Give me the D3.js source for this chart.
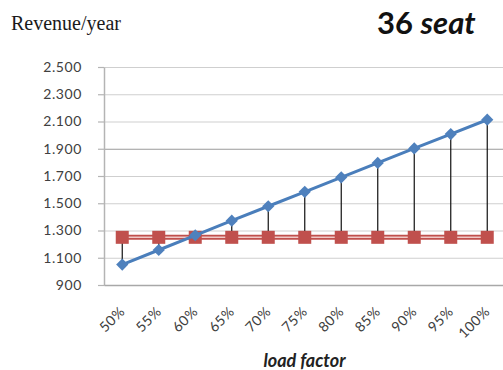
<!DOCTYPE html>
<html>
<head>
<meta charset="utf-8">
<script src="https://cdn.jsdelivr.net/npm/d3@7"></script>
<style>
  html, body { margin: 0; padding: 0; background: #fff; }
  svg { display: block; }
</style>
</head>
<body>
<svg id="chart" width="503" height="370"></svg>
<script>
// Load factor categories
const categories = ["50%", "55%", "60%", "65%", "70%", "75%", "80%", "85%", "90%", "95%", "100%"];
// Revenue per year at each load factor
const revenue = [1050, 1157, 1265, 1372, 1478, 1584, 1690, 1796, 1902, 2008, 2113];
// Break-even cost level
const cost = [1250, 1250, 1250, 1250, 1250, 1250, 1250, 1250, 1250, 1250, 1250];
// Y axis ticks
const yTicks = [900, 1100, 1300, 1500, 1700, 1900, 2100, 2300, 2500];

const svg = d3.select("#chart");
const plotLeft = 104, plotRight = 505.5, plotTop = 67, plotBottom = 285;

const x = d3.scaleBand().domain(categories).range([plotLeft, plotRight]).padding(0);
const y = d3.scaleLinear().domain([900, 2500]).range([plotBottom, plotTop]);
const cx = c => x(c) + x.bandwidth() / 2;

const fmt = d3.formatLocale({ decimal: ",", thousands: ".", grouping: [3], currency: ["", ""] }).format(",");

// Horizontal gridlines
const grid = svg.append("g").attr("transform", `translate(${plotLeft},0)`)
  .call(d3.axisLeft(y).tickValues(yTicks).tickSizeInner(-(plotRight - plotLeft)).tickSizeOuter(0).tickFormat(""));
grid.select(".domain").remove();
grid.selectAll(".tick line").attr("stroke", d => d === 1900 ? "#9a9a9a" : "#cfcfcf").attr("stroke-width", 1.2);

// Y axis with outward ticks and labels
const yAxis = svg.append("g").attr("transform", `translate(${plotLeft},0)`)
  .call(d3.axisLeft(y).tickValues(yTicks).tickSizeInner(6).tickSizeOuter(0).tickPadding(16).tickFormat(fmt));
yAxis.select(".domain").attr("stroke", "#b4b4b4").attr("stroke-width", 1.5);
yAxis.selectAll(".tick line").attr("stroke", "#b4b4b4").attr("stroke-width", 1.2);
yAxis.selectAll(".tick text")
  .attr("font-family", "Lato, 'Open Sans', sans-serif")
  .attr("font-size", 14)
  .attr("letter-spacing", 0.6)
  .attr("fill", "#404040");

// X axis line and rotated category labels
const xAxis = svg.append("g").attr("transform", `translate(0,${plotBottom})`)
  .call(d3.axisBottom(x).tickSize(0).tickSizeOuter(0).tickPadding(0));
xAxis.select(".domain").attr("stroke", "#a8a8a8").attr("stroke-width", 1.5);
xAxis.selectAll(".tick text")
  .attr("font-family", "Lato, 'Open Sans', sans-serif")
  .attr("font-size", 14)
  .attr("letter-spacing", 0.5)
  .attr("fill", "#404040")
  .attr("text-anchor", "end")
  .attr("dominant-baseline", "middle")
  .attr("dy", null)
  .attr("y", null)
  .attr("transform", "translate(1,25) rotate(-45)");

// Drop lines between revenue and cost
svg.append("g").selectAll("line").data(categories).join("line")
  .attr("x1", c => cx(c)).attr("x2", c => cx(c))
  .attr("y1", (c, i) => y(revenue[i])).attr("y2", (c, i) => y(cost[i]))
  .attr("stroke", "#111").attr("stroke-width", 1.2);

// Cost series: double red line with square markers
const costLine = d3.line().x((d, i) => cx(categories[i])).y(d => y(d));
svg.append("path").datum(cost).attr("d", costLine)
  .attr("fill", "none").attr("stroke", "#c0504d").attr("stroke-width", 5);
svg.append("path").datum(cost).attr("d", costLine)
  .attr("fill", "none").attr("stroke", "#f0c8c6").attr("stroke-width", 1.5);
svg.append("g").selectAll("rect").data(cost).join("rect")
  .attr("x", (d, i) => cx(categories[i]) - 6.5)
  .attr("y", d => y(d) - 6.5)
  .attr("width", 13).attr("height", 13)
  .attr("fill", "#c0504d");

// Revenue series: blue line with diamond markers
const revLine = d3.line().x((d, i) => cx(categories[i])).y(d => y(d));
svg.append("path").datum(revenue).attr("d", revLine)
  .attr("fill", "none").attr("stroke", "#4a7ebb").attr("stroke-width", 3);
const diamond = d3.symbol().type(d3.symbolDiamond2).size(95);
svg.append("g").selectAll("path").data(revenue).join("path")
  .attr("d", diamond)
  .attr("transform", (d, i) => `translate(${cx(categories[i])},${y(d)})`)
  .attr("fill", "#4f81bd");

// Titles
svg.append("text")
  .attr("x", 11).attr("y", 30)
  .attr("font-family", "'Liberation Serif', 'Times New Roman', serif")
  .attr("font-size", 20)
  .attr("fill", "#1a1a1a")
  .text("Revenue/year");

const title = svg.append("text")
  .attr("x", 377).attr("y", 34)
  .attr("font-family", "Lato, 'Open Sans', sans-serif")
  .attr("font-size", 31)
  .attr("font-weight", "bold")
  .attr("fill", "#111");
title.append("tspan").text("36 ");
title.append("tspan").attr("font-style", "italic").text("seat");

svg.append("text")
  .attr("x", 304.5).attr("y", 367)
  .attr("text-anchor", "middle")
  .attr("font-family", "Lato, 'Open Sans', sans-serif")
  .attr("font-size", 18)
  .attr("font-weight", "bold")
  .attr("font-style", "italic")
  .attr("fill", "#222")
  .text("load factor");
</script>
</body>
</html>
